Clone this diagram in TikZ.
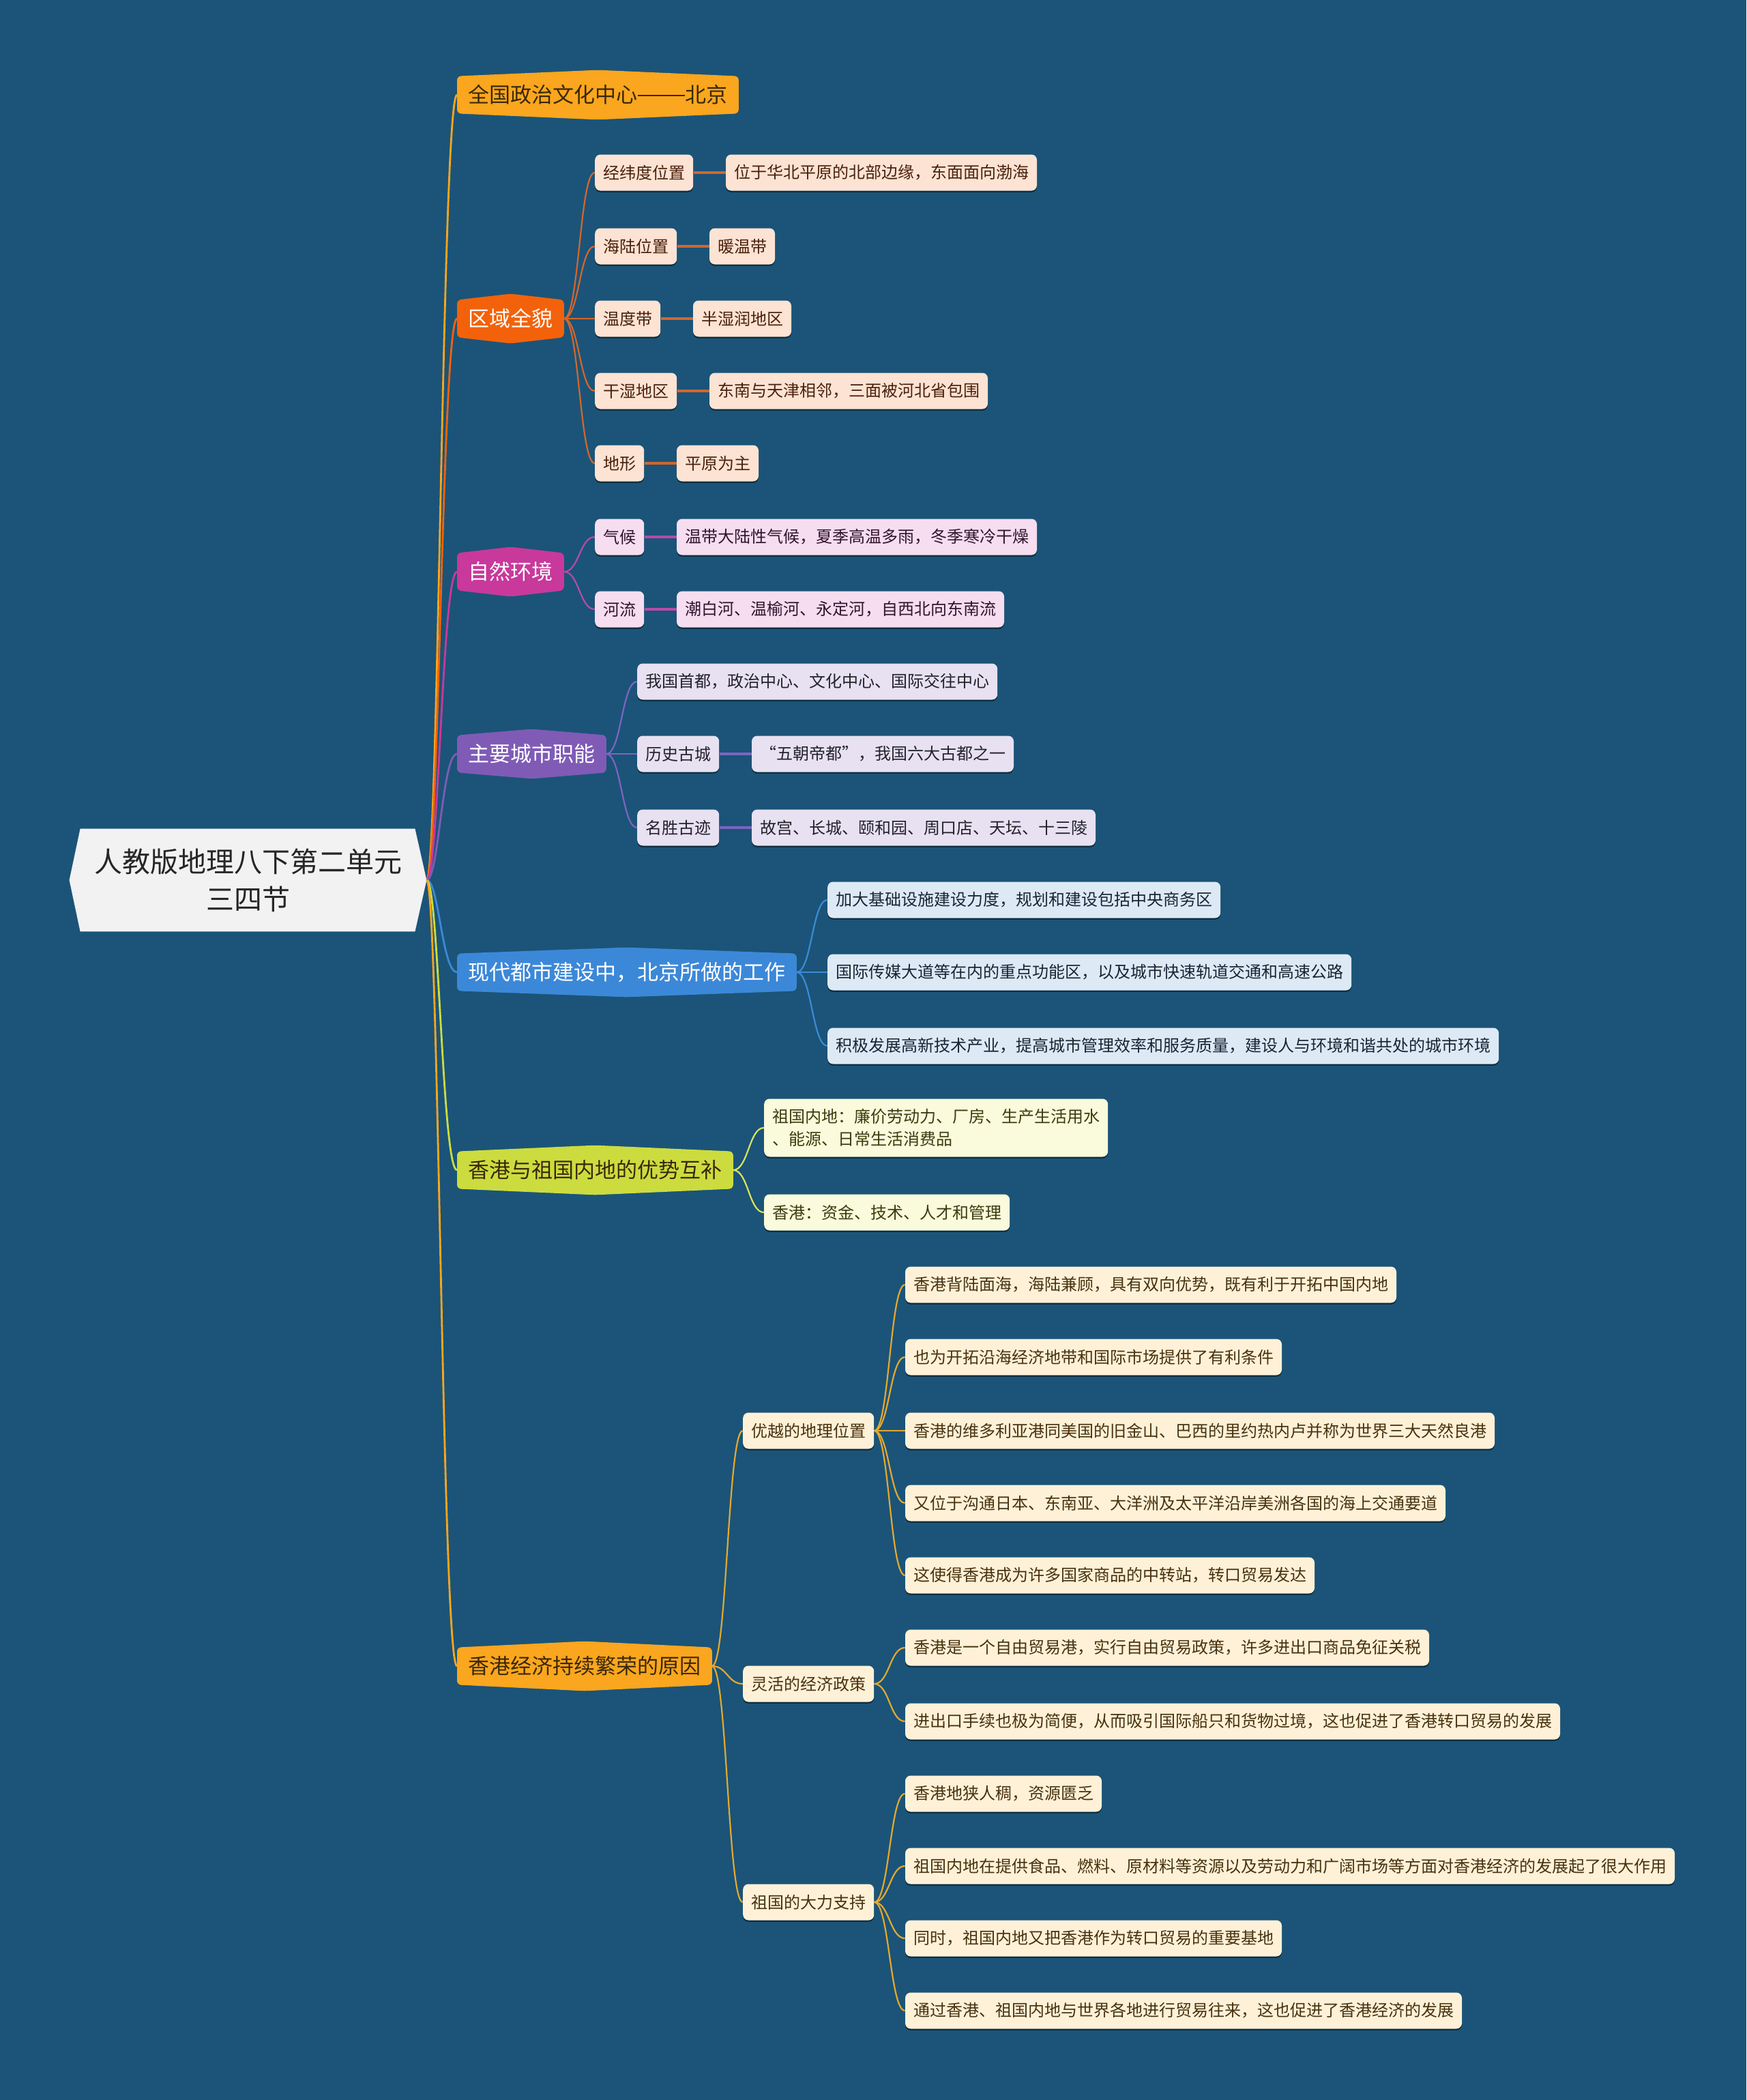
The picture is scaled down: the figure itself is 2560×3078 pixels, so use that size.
\documentclass[tikz,border=0pt]{standalone}
\usepackage{fontspec}
\setmainfont{Noto Sans CJK SC}
\usetikzlibrary{calc,shadows}
\definecolor{bgc}{RGB}{27,84,120}
\definecolor{rootc}{RGB}{242,242,242}
\definecolor{cA}{RGB}{250,166,30}
\definecolor{cB}{RGB}{243,98,10}
\definecolor{cC}{RGB}{200,57,155}
\definecolor{cD}{RGB}{127,91,182}
\definecolor{cE}{RGB}{60,136,216}
\definecolor{cF}{RGB}{204,220,63}
\definecolor{cG}{RGB}{250,166,30}
\definecolor{lB}{RGB}{253,227,211}
\definecolor{lC}{RGB}{246,221,240}
\definecolor{lD}{RGB}{231,225,242}
\definecolor{lE}{RGB}{221,234,246}
\definecolor{lF}{RGB}{250,250,220}
\definecolor{lG}{RGB}{254,241,216}
\definecolor{kB}{RGB}{212,102,44}
\definecolor{kC}{RGB}{184,74,170}
\definecolor{kD}{RGB}{125,100,192}
\definecolor{kE}{RGB}{58,139,214}
\definecolor{kF}{RGB}{216,228,92}
\definecolor{kG}{RGB}{228,168,48}
\definecolor{tdark}{RGB}{58,40,8}
\definecolor{tB}{RGB}{74,32,12}
\definecolor{tC}{RGB}{50,20,45}
\definecolor{tD}{RGB}{34,34,44}
\definecolor{tE}{RGB}{26,36,52}
\definecolor{tF}{RGB}{60,60,14}
\definecolor{tG}{RGB}{72,50,14}
\pgfdeclarelayer{bg}
\pgfdeclarelayer{shapes}
\pgfsetlayers{bg,shapes,main}
\newcommand\lvlshape[2]{\fill[#2, rounded corners=3pt] (#1.south west) -- (#1.north west) -- ($(#1.north)+(0,-9)$) -- (#1.north east) -- (#1.south east) -- ($(#1.south)+(0,9)$) -- cycle;}
\newcommand\rootlink[2]{\draw[rl,#1] (R.east) .. controls +(18,0) and +(-22,0) .. (#2.west);}
\newcommand\cn[3]{\draw[cv,#1] (#2.east) .. controls +(22,0) and +(-22,0) .. (#3.west);}
\newcommand\hz[3]{\draw[hzl,#1] (#2.east) -- (#3.west);}
\begin{document}
\begin{tikzpicture}[x=0.5pt,y=-0.5pt,
  leaf/.style={rounded corners=4pt, inner xsep=6pt, inner ysep=0pt, minimum height=26.5pt,
    font=\fontsize{12pt}{16.5pt}\selectfont, anchor=west,
    drop shadow={shadow xshift=0pt, shadow yshift=-1.2pt, opacity=0.45, fill=black}},
  lone/.style={inner xsep=8pt, inner ysep=0pt, minimum height=27pt,
    font=\fontsize{15.5pt}{18pt}\selectfont, anchor=west},
  leafB/.style={leaf, fill=lB, text=tB},
  leafC/.style={leaf, fill=lC, text=tC},
  leafD/.style={leaf, fill=lD, text=tD},
  leafE/.style={leaf, fill=lE, text=tE},
  leafF/.style={leaf, fill=lF, text=tF},
  leafG/.style={leaf, fill=lG, text=tG},
  rl/.style={line width=1.4pt},
  cv/.style={line width=1.1pt},
  hzl/.style={line width=1.8pt},
]
\useasboundingbox (0,0) rectangle (2560,3078);
\begin{pgfonlayer}{bg}
\fill[bgc] (0,0) rectangle (2560,3078);
\end{pgfonlayer}

% root
\node[font=\fontsize{20.5pt}{27.5pt}\selectfont, text=black!85, align=center,
  minimum width=261.5pt, minimum height=75pt, inner sep=0pt] (R) at (363.5,1290)
  {人教版地理八下第二单元\\三四节};

% level 1
\node[lone, text=tdark] (A) at (670,139) {全国政治文化中心\kern0.03em\rule[0.33em]{2.2em}{0.06em}\kern0.03em北京};
\node[lone, text=white] (B) at (670,467) {区域全貌};
\node[lone, text=white] (C) at (670,838) {自然环境};
\node[lone, text=white] (D) at (670,1105) {主要城市职能};
\node[lone, text=white] (E) at (670,1425) {现代都市建设中，北京所做的工作};
\node[lone, text=tdark] (F) at (670,1715) {香港与祖国内地的优势互补};
\node[lone, text=tdark] (G) at (670,2442) {香港经济持续繁荣的原因};

\path (B.east) ++(45,0) coordinate (Bx);
\path (C.east) ++(45,0) coordinate (Cx);
\path (D.east) ++(45,0) coordinate (Dx);
\path (E.east) ++(45,0) coordinate (Ex);
\path (F.east) ++(45,0) coordinate (Fx);
\path (G.east) ++(45,0) coordinate (Gx);

% B branch
\node[leafB] (b1) at (Bx |- 0,253) {经纬度位置};
\node[leafB] (b2) at (Bx |- 0,361) {海陆位置};
\node[leafB] (b3) at (Bx |- 0,467) {温度带};
\node[leafB] (b4) at (Bx |- 0,573) {干湿地区};
\node[leafB] (b5) at (Bx |- 0,679) {地形};
\node[leafB] (b1x) at ($(b1.east)+(47,0)$) {位于华北平原的北部边缘，东面面向渤海};
\node[leafB] (b2x) at ($(b2.east)+(47,0)$) {暖温带};
\node[leafB] (b3x) at ($(b3.east)+(47,0)$) {半湿润地区};
\node[leafB] (b4x) at ($(b4.east)+(47,0)$) {东南与天津相邻，三面被河北省包围};
\node[leafB] (b5x) at ($(b5.east)+(47,0)$) {平原为主};

% C branch
\node[leafC] (c1) at (Cx |- 0,787) {气候};
\node[leafC] (c2) at (Cx |- 0,893) {河流};
\node[leafC] (c1x) at ($(c1.east)+(47,0)$) {温带大陆性气候，夏季高温多雨，冬季寒冷干燥};
\node[leafC] (c2x) at ($(c2.east)+(47,0)$) {潮白河、温榆河、永定河，自西北向东南流};

% D branch
\node[leafD] (d1) at (Dx |- 0,999) {我国首都，政治中心、文化中心、国际交往中心};
\node[leafD] (d2) at (Dx |- 0,1105) {历史古城};
\node[leafD] (d3) at (Dx |- 0,1213) {名胜古迹};
\node[leafD] (d2x) at ($(d2.east)+(47,0)$) {“五朝帝都”，我国六大古都之一};
\node[leafD] (d3x) at ($(d3.east)+(47,0)$) {故宫、长城、颐和园、周口店、天坛、十三陵};

% E branch
\node[leafE] (e1) at (Ex |- 0,1319) {加大基础设施建设力度，规划和建设包括中央商务区};
\node[leafE] (e2) at (Ex |- 0,1425) {国际传媒大道等在内的重点功能区，以及城市快速轨道交通和高速公路};
\node[leafE] (e3) at (Ex |- 0,1533) {积极发展高新技术产业，提高城市管理效率和服务质量，建设人与环境和谐共处的城市环境};

% F branch
\node[leafF, align=left, minimum height=42.5pt] (f1) at (Fx |- 0,1653) {祖国内地：廉价劳动力、厂房、生产生活用水\\、能源、日常生活消费品};
\node[leafF] (f2) at (Fx |- 0,1777) {香港：资金、技术、人才和管理};

% G branch
\node[leafG] (g1) at (Gx |- 0,2097) {优越的地理位置};
\node[leafG] (g2) at (Gx |- 0,2468) {灵活的经济政策};
\node[leafG] (g3) at (Gx |- 0,2788) {祖国的大力支持};
\path (g1.east) ++(45,0) coordinate (G1x);
\path (g2.east) ++(45,0) coordinate (G2x);
\path (g3.east) ++(45,0) coordinate (G3x);
\node[leafG] (g11) at (G1x |- 0,1883) {香港背陆面海，海陆兼顾，具有双向优势，既有利于开拓中国内地};
\node[leafG] (g12) at (G1x |- 0,1989) {也为开拓沿海经济地带和国际市场提供了有利条件};
\node[leafG] (g13) at (G1x |- 0,2097) {香港的维多利亚港同美国的旧金山、巴西的里约热内卢并称为世界三大天然良港};
\node[leafG] (g14) at (G1x |- 0,2203) {又位于沟通日本、东南亚、大洋洲及太平洋沿岸美洲各国的海上交通要道};
\node[leafG] (g15) at (G1x |- 0,2309) {这使得香港成为许多国家商品的中转站，转口贸易发达};
\node[leafG] (g21) at (G2x |- 0,2415) {香港是一个自由贸易港，实行自由贸易政策，许多进出口商品免征关税};
\node[leafG] (g22) at (G2x |- 0,2523) {进出口手续也极为简便，从而吸引国际船只和货物过境，这也促进了香港转口贸易的发展};
\node[leafG] (g31) at (G3x |- 0,2629) {香港地狭人稠，资源匮乏};
\node[leafG] (g32) at (G3x |- 0,2735) {祖国内地在提供食品、燃料、原材料等资源以及劳动力和广阔市场等方面对香港经济的发展起了很大作用};
\node[leafG] (g33) at (G3x |- 0,2841) {同时，祖国内地又把香港作为转口贸易的重要基地};
\node[leafG] (g34) at (G3x |- 0,2947) {通过香港、祖国内地与世界各地进行贸易往来，这也促进了香港经济的发展};

\begin{pgfonlayer}{shapes}
\fill[rootc] ($(R.north west)+(16,0)$) -- ($(R.north east)+(-17,0)$) -- (R.east) -- ($(R.south east)+(-17,0)$) -- ($(R.south west)+(16,0)$) -- (R.west) -- cycle;
\lvlshape{A}{cA}
\lvlshape{B}{cB}
\lvlshape{C}{cC}
\lvlshape{D}{cD}
\lvlshape{E}{cE}
\lvlshape{F}{cF}
\lvlshape{G}{cG}
% root links
\rootlink{cA}{A}
\rootlink{cB}{B}
\rootlink{cC}{C}
\rootlink{cD}{D}
\rootlink{cE}{E}
\rootlink{cF}{F}
\rootlink{cG}{G}
% B
\cn{kB}{B}{b1}\cn{kB}{B}{b2}\cn{kB}{B}{b3}\cn{kB}{B}{b4}\cn{kB}{B}{b5}
\hz{kB}{b1}{b1x}\hz{kB}{b2}{b2x}\hz{kB}{b3}{b3x}\hz{kB}{b4}{b4x}\hz{kB}{b5}{b5x}
% C
\cn{kC}{C}{c1}\cn{kC}{C}{c2}
\hz{kC}{c1}{c1x}\hz{kC}{c2}{c2x}
% D
\cn{kD}{D}{d1}\cn{kD}{D}{d2}\cn{kD}{D}{d3}
\hz{kD}{d2}{d2x}\hz{kD}{d3}{d3x}
% E
\cn{kE}{E}{e1}\cn{kE}{E}{e2}\cn{kE}{E}{e3}
% F
\cn{kF}{F}{f1}\cn{kF}{F}{f2}
% G
\cn{kG}{G}{g1}\cn{kG}{G}{g2}\cn{kG}{G}{g3}
\cn{kG}{g1}{g11}\cn{kG}{g1}{g12}\cn{kG}{g1}{g13}\cn{kG}{g1}{g14}\cn{kG}{g1}{g15}
\cn{kG}{g2}{g21}\cn{kG}{g2}{g22}
\cn{kG}{g3}{g31}\cn{kG}{g3}{g32}\cn{kG}{g3}{g33}\cn{kG}{g3}{g34}
\end{pgfonlayer}
\end{tikzpicture}
\end{document}
